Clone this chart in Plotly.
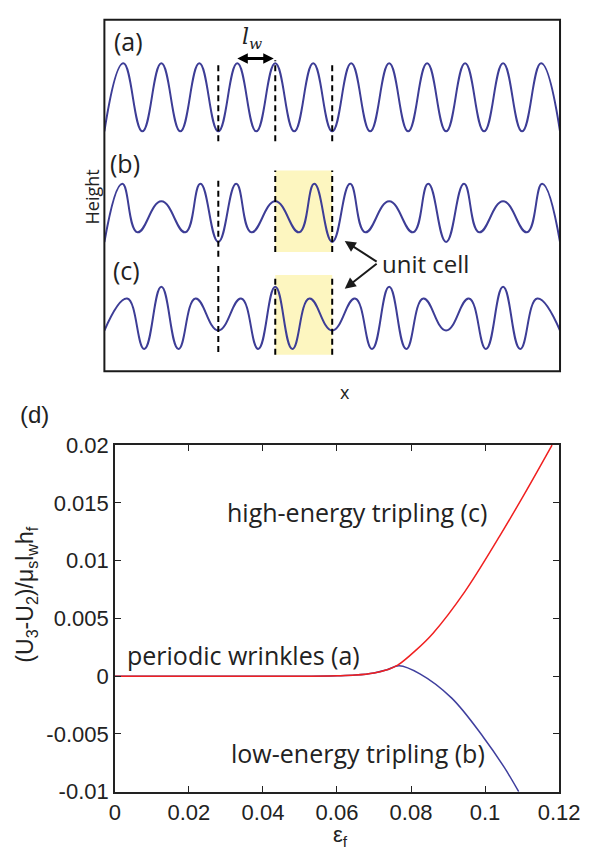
import plotly.graph_objects as go

W, H = 603, 863

# ---------------- data: wrinkle profiles (x in units of wavelength l_w) ----------------
# (a) periodic wrinkles: extrema every half wavelength
a_cell_x = [0.0, 0.5]
a_cell_h = [-1.0, 1.0]
# (b) low-energy tripling: one unit cell of 3 wavelengths
b_cell_x = [0.0, 0.47, 0.87, 1.5, 2.13, 2.53]
b_cell_h = [-0.857, 0.857, -0.571, 0.343, -0.571, 0.857]
# (c) high-energy tripling
c_cell_x = [0.0, 0.6, 1.05, 1.5, 1.95, 2.4]
c_cell_h = [-0.371, 0.571, -0.914, 0.914, -0.914, 0.571]
offsets = {"a": 8.06, "b": 4.66, "c": 1.571}
unit_cell_marks = [3.0, 4.5, 6.0]
lw_arrow = [3.5, 4.5]
profile_length = 12.0

# ---------------- data: energy difference vs strain ----------------
eps_high = [0, 0.01, 0.02, 0.03, 0.04, 0.05, 0.06, 0.065, 0.07, 0.0735, 0.0764,
            0.0815, 0.0859, 0.0945, 0.1039, 0.1107, 0.1181]
dU_high = [0, 0, 0, 0, 0, 0, 0.00004, 0.0001, 0.00028, 0.00055, 0.00095,
           0.0023, 0.0037, 0.0073, 0.0121, 0.0158, 0.02]
eps_low = [0, 0.01, 0.02, 0.03, 0.04, 0.05, 0.06, 0.065, 0.07, 0.0735, 0.0768,
           0.0824, 0.091, 0.0996, 0.1052, 0.1091]
dU_low = [0, 0, 0, 0, 0, 0, 0.00004, 0.0001, 0.00028, 0.00055, 0.0009,
          0.0002, -0.0019, -0.0053, -0.0079, -0.01]

x_ticks = [0, 0.02, 0.04, 0.06, 0.08, 0.1, 0.12]
x_ticklabels = ["0", "0.02", "0.04", "0.06", "0.08", "0.1", "0.12"]
y_ticks = [-0.01, -0.005, 0, 0.005, 0.01, 0.015, 0.02]
y_ticklabels = ["-0.01", "-0.005", "0", "0.005", "0.01", "0.015", "0.02"]


def tile(cell_x, cell_h, period, length):
    xs, hs = [], []
    n = int(round(length / period))
    for k in range(n):
        for cx, ch in zip(cell_x, cell_h):
            xs.append(k * period + cx)
            hs.append(ch)
    xs.append(length)
    hs.append(cell_h[0])
    return xs, hs


def px(x):
    return x / W


def py(y):
    return 1 - y / H


WAVE = "#3d3d96"
MYR = "Open Sans, Arial, sans-serif"
ARI = "Liberation Sans, Arial, sans-serif"
TXT = "#222"

fig = go.Figure()

# top panel profiles
for key, cx, ch, per in [("a", a_cell_x, a_cell_h, 1.0), ("b", b_cell_x, b_cell_h, 3.0),
                         ("c", c_cell_x, c_cell_h, 3.0)]:
    xs, hs = tile(cx, ch, per, profile_length)
    fig.add_trace(go.Scatter(x=xs, y=[h + offsets[key] for h in hs], mode="lines",
                             line=dict(color=WAVE, width=2, shape="spline", smoothing=1.3),
                             xaxis="x", yaxis="y", hoverinfo="skip"))

# bottom panel curves
fig.add_trace(go.Scatter(x=eps_low, y=dU_low, mode="lines",
                         line=dict(color="#3f3f9e", width=1.5, shape="spline"),
                         xaxis="x2", yaxis="y2"))
fig.add_trace(go.Scatter(x=eps_high, y=dU_high, mode="lines",
                         line=dict(color="#f02020", width=1.5, shape="spline"),
                         xaxis="x2", yaxis="y2"))

shapes = []
# yellow unit cell highlight (b) and (c)
shapes.append(dict(type="rect", xref="x", yref="y", x0=unit_cell_marks[1], x1=unit_cell_marks[2],
                   y0=3.51, y1=5.91, fillcolor="#fdf6c0", line=dict(width=0), layer="below"))
shapes.append(dict(type="rect", xref="x", yref="y", x0=unit_cell_marks[1], x1=unit_cell_marks[2],
                   y0=0.486, y1=2.83, fillcolor="#fdf6c0", line=dict(width=0), layer="below"))
# dashed unit-cell boundaries
dash_extents = {
    "a": [(6.77, 9.09), (6.77, 9.15), (6.77, 9.09)],
    "b": [(3.37, 5.66), (3.51, 5.91), (3.51, 5.91)],
    "c": [(0.57, 3.2), (0.486, 2.83), (0.486, 2.83)],
}
for key, ext in dash_extents.items():
    for xm, (y0, y1) in zip(unit_cell_marks, ext):
        shapes.append(dict(type="line", xref="x", yref="y", x0=xm, x1=xm, y0=y0, y1=y1,
                           line=dict(color="black", width=2, dash="6px,4px")))
# frame of top panel
shapes.append(dict(type="rect", xref="x domain", yref="y domain", x0=0, x1=1, y0=0, y1=1,
                   line=dict(color="#1a1a1a", width=2)))


def ptext(text, x, y, family, size, angle=0):
    return dict(text=text, x=px(x), y=py(y), xref="paper", yref="paper", showarrow=False,
                xanchor="center", yanchor="middle", textangle=angle,
                font=dict(family=family, size=size, color=TXT))


annotations = []
for lab, (xx, yy) in {"(a)": (128, 30), "(b)": (125, 155), "(c)": (126, 266)}.items():
    annotations.append(ptext(lab, xx, yy, MYR, 25))
annotations.append(ptext("Height", 91, 190, MYR, 18, -90))
annotations.append(ptext("x", 355, 391, MYR, 18))
# l_w double arrow
annotations.append(dict(text="", x=lw_arrow[0], y=9.2, ax=lw_arrow[1], ay=9.2, xref="x", yref="y",
                        axref="x", ayref="y", showarrow=True, arrowhead=2, arrowside="end+start",
                        arrowwidth=3, arrowsize=0.7, arrowcolor="black"))
annotations.append(ptext("<i>l<sub>w</sub></i>", 258, 27, "DejaVu Serif, serif", 22))
# unit cell arrows
for yt in (3.83, 2.43):
    annotations.append(dict(text="", x=6.33, y=yt, ax=7.21, ay=3.2, xref="x", yref="y",
                            axref="x", ayref="y", showarrow=True, arrowhead=2,
                            arrowwidth=2, arrowsize=1.1, arrowcolor="#1a1a1a"))
annotations.append(dict(text="unit cell", x=7.25, y=3.17, xref="x", yref="y", showarrow=False,
                        xanchor="left", yanchor="middle",
                        font=dict(family=MYR, size=24, color=TXT)))

# panel d labels
annotations.append(ptext("(d)", 30, 414, ARI, 24))
for txt, xx, yy in [("high-energy tripling (c)", 0.0655, 0.0142),
                    ("periodic wrinkles (a)", 0.0348, 0.00185),
                    ("low-energy tripling (b)", 0.0657, -0.00664)]:
    annotations.append(dict(text=txt, x=xx, y=yy, xref="x2", yref="y2", showarrow=False,
                            xanchor="center", yanchor="middle",
                            font=dict(family=MYR, size=25, color=TXT)))
annotations.append(ptext("(U<sub>3</sub>-U<sub>2</sub>)/μ<sub>s</sub>l<sub>w</sub>h<sub>f</sub>",
                         22, 600, ARI, 23, -90))
annotations.append(ptext("ε<sub>f</sub>", 350, 849, ARI, 22))

fig.update_layout(
    width=W, height=H, margin=dict(l=0, r=0, t=0, b=0),
    paper_bgcolor="white", plot_bgcolor="white", showlegend=False,
    xaxis=dict(domain=[px(103), px(580)], range=[0, profile_length], visible=False,
               anchor="y"),
    yaxis=dict(domain=[py(370), py(8)], range=[0, 362 / 35], visible=False, anchor="x"),
    xaxis2=dict(domain=[px(114), px(579)], range=[0, 0.12], anchor="y2",
                tickvals=x_ticks, ticktext=x_ticklabels, ticks="inside", ticklen=6,
                tickwidth=1.2, tickcolor=TXT, mirror="ticks", showline=True,
                linecolor=TXT, linewidth=1.5, showgrid=False, zeroline=False,
                tickfont=dict(family=ARI, size=22, color=TXT)),
    yaxis2=dict(domain=[py(803), py(446)], range=[-0.01, 0.02], anchor="x2",
                tickvals=y_ticks, ticktext=y_ticklabels, ticks="inside", ticklen=6,
                tickwidth=1.2, tickcolor=TXT, mirror="ticks", showline=True,
                linecolor=TXT, linewidth=1.5, showgrid=False, zeroline=False,
                tickfont=dict(family=ARI, size=22, color=TXT)),
    shapes=shapes, annotations=annotations,
)

fig.write_html("out.html")
